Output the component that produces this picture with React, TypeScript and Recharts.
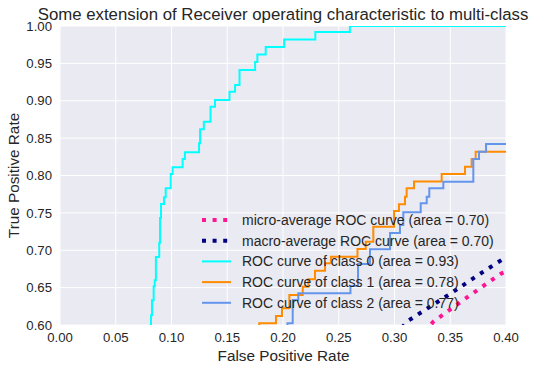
import { CartesianGrid, Legend, Line, LineChart, XAxis, YAxis } from 'recharts';

// ROC points (false positive rate / true positive rate)
const fprMicro = [0, 0.3348, 0.3617, 0.3881, 0.3961, 1];
const tprMicro = [0, 0.6044, 0.6334, 0.6611, 0.6692, 1];

const fprMacro = [0, 0.3109, 0.3507, 0.3805, 0.3961, 1];
const tprMacro = [0, 0.6044, 0.6425, 0.6722, 0.687, 1];

// class curves are staircases: each point is the top of a riser
const fpr0 = [0, 0.0816, 0.0825, 0.084, 0.085, 0.086, 0.089, 0.0897, 0.0906, 0.0933, 0.0948, 0.0993, 0.101, 0.11, 0.112, 0.1247, 0.1256, 0.129, 0.135, 0.139, 0.152, 0.157, 0.161, 0.175, 0.177, 0.1845, 0.201, 0.229, 0.26, 1];
const tpr0 = [0, 0.613, 0.633, 0.652, 0.66, 0.691, 0.71, 0.743, 0.762, 0.771, 0.783, 0.802, 0.811, 0.822, 0.831, 0.843, 0.862, 0.872, 0.892, 0.901, 0.912, 0.921, 0.941, 0.952, 0.962, 0.972, 0.982, 0.992, 1, 1];

const fpr1 = [0, 0.1787, 0.1937, 0.1991, 0.2057, 0.2177, 0.2227, 0.2287, 0.2377, 0.243, 0.2668, 0.2742, 0.281, 0.2996, 0.304, 0.3094, 0.3109, 0.3175, 0.3423, 0.3632, 0.3692, 0.3728, 1];
const tpr1 = [0, 0.6023, 0.612, 0.6223, 0.6401, 0.6512, 0.6611, 0.6726, 0.6825, 0.6914, 0.7017, 0.7114, 0.7315, 0.7525, 0.7615, 0.7716, 0.7829, 0.792, 0.802, 0.8118, 0.8221, 0.8318, 1];

const fpr2 = [0, 0.204, 0.2087, 0.2137, 0.2605, 0.2673, 0.278, 0.296, 0.3049, 0.3079, 0.3235, 0.3289, 0.3312, 0.3438, 0.3707, 0.3758, 0.3821, 1];
const tpr2 = [0, 0.6023, 0.6334, 0.6424, 0.6522, 0.6816, 0.7013, 0.7231, 0.7338, 0.7508, 0.7628, 0.7716, 0.7829, 0.7917, 0.8221, 0.8318, 0.8421, 1];

const xTicks = [0, 0.05, 0.1, 0.15, 0.2, 0.25, 0.3, 0.35, 0.4];
const yTicks = [0.6, 0.65, 0.7, 0.75, 0.8, 0.85, 0.9, 0.95, 1];

type RocSeries = {
  name: string;
  color: string;
  dotted: boolean;
  fpr: number[];
  tpr: number[];
};

const series: RocSeries[] = [
  { name: 'micro-average ROC curve (area = 0.70)', color: '#ff1493', dotted: true, fpr: fprMicro, tpr: tprMicro },
  { name: 'macro-average ROC curve (area = 0.70)', color: '#000080', dotted: true, fpr: fprMacro, tpr: tprMacro },
  { name: 'ROC curve of class 0 (area = 0.93)', color: '#00ffff', dotted: false, fpr: fpr0, tpr: tpr0 },
  { name: 'ROC curve of class 1 (area = 0.78)', color: '#ff8c00', dotted: false, fpr: fpr1, tpr: tpr1 },
  { name: 'ROC curve of class 2 (area = 0.77)', color: '#6495ed', dotted: false, fpr: fpr2, tpr: tpr2 }
];

const font = '"Liberation Sans", Arial, Helvetica, sans-serif';
const ink = '#262626';

function toPoints(fpr: number[], tpr: number[]) {
  return fpr.map((f, i) => ({ fpr: f, tpr: tpr[i] }));
}

function RocLegend() {
  return (
    <svg width={300} height={104} style={{ display: 'block', overflow: 'visible' }}>
      {series.map((s, i) => {
        const cy = 10 + i * 20.7;
        return (
          <g key={s.name}>
            <line
              x1={0}
              x2={29}
              y1={cy}
              y2={cy}
              stroke={s.color}
              strokeWidth={s.dotted ? 4 : 2}
              strokeDasharray={s.dotted ? '4 6.6' : undefined}
            />
            <text x={40} y={cy + 5} fontSize={14} fontFamily={font} fill={ink}>
              {s.name}
            </text>
          </g>
        );
      })}
    </svg>
  );
}

export default function App() {
  return (
    <div style={{ position: 'absolute', left: 0, top: 0, width: 535, height: 370, background: '#fff' }}>
      <LineChart width={535} height={370} margin={{ top: 26, right: 29, bottom: 0, left: 0 }}>
        <CartesianGrid fill="#eaeaf2" stroke="#ffffff" strokeWidth={1} />
        <XAxis
          dataKey="fpr"
          type="number"
          domain={[0, 0.4]}
          ticks={xTicks}
          interval={0}
          allowDataOverflow
          axisLine={false}
          tickLine={false}
          height={45}
          tickFormatter={(v) => Number(v).toFixed(2)}
          tick={{ fill: ink, fontSize: 13.2, fontFamily: font }}
        />
        <YAxis
          type="number"
          domain={[0.6, 1]}
          ticks={yTicks}
          interval={0}
          allowDataOverflow
          axisLine={false}
          tickLine={false}
          width={60}
          tickFormatter={(v) => Number(v).toFixed(2)}
          tick={{ fill: ink, fontSize: 13.2, fontFamily: font }}
        />
        {series.map((s) => (
          <Line
            key={s.name}
            data={toPoints(s.fpr, s.tpr)}
            dataKey="tpr"
            name={s.name}
            type={s.dotted ? 'linear' : 'stepAfter'}
            stroke={s.color}
            strokeWidth={s.dotted ? 4 : 2}
            strokeDasharray={s.dotted ? '4 6.6' : undefined}
            dot={false}
            activeDot={false}
            isAnimationActive={false}
          />
        ))}
        <Legend
          layout="vertical"
          align="center"
          verticalAlign="middle"
          content={<RocLegend />}
          wrapperStyle={{ left: 201.7, top: 210, width: 300, height: 104 }}
        />
        <text x={283} y={19.5} textAnchor="middle" fontSize={16.8} fontFamily={font} fill={ink}>
          Some extension of Receiver operating characteristic to multi-class
        </text>
        <text x={283.5} y={361} textAnchor="middle" fontSize={15.3} fontFamily={font} fill={ink}>
          False Positive Rate
        </text>
        <text
          x={19}
          y={175.5}
          textAnchor="middle"
          transform="rotate(-90 19 175.5)"
          fontSize={15.3}
          fontFamily={font}
          fill={ink}
        >
          True Positive Rate
        </text>
      </LineChart>
    </div>
  );
}
